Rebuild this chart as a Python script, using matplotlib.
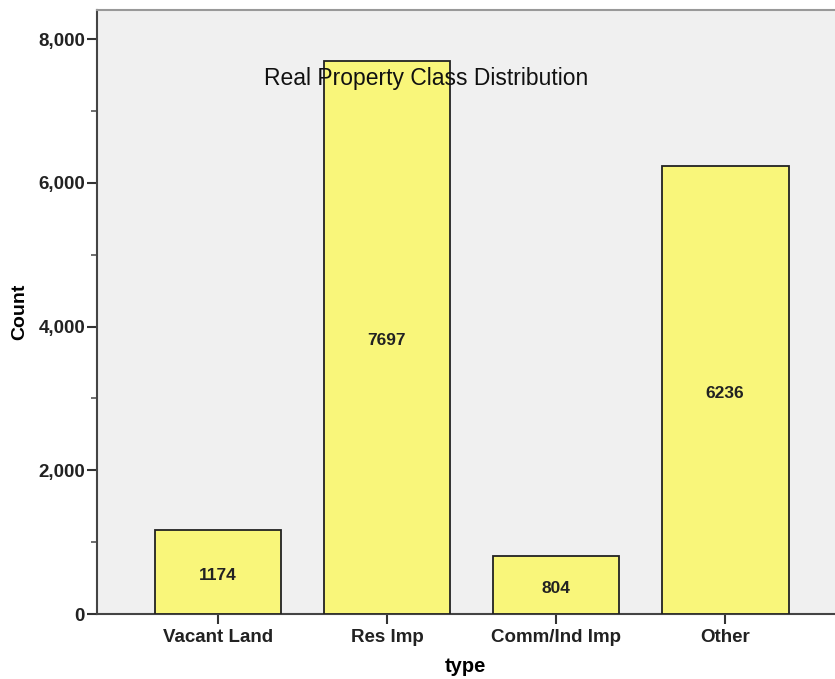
import matplotlib.pyplot as plt
from matplotlib.ticker import FixedLocator, FuncFormatter

# data
categories = ['Vacant Land', 'Res Imp', 'Comm/Ind Imp', 'Other']
counts = [1174, 7697, 804, 6236]
y_major = [0, 2000, 4000, 6000, 8000]
y_minor = [1000, 3000, 5000, 7000]

plt.rcParams['font.family'] = ['Liberation Sans', 'DejaVu Sans']

fig = plt.figure(figsize=(8.35, 6.79), dpi=100)
ax = fig.add_axes([0.116, 0.0957, 0.884, 0.889])
ax.set_facecolor('#f0f0f0')

bars = ax.bar(range(len(categories)), counts, width=0.75,
              color='#f9f67a', edgecolor='#222222', linewidth=1.3, zorder=3)
anns = ax.bar_label(bars, labels=[str(c) for c in counts], label_type='center',
                    fontsize=12.5, fontweight='bold', color='#222222')
for a in anns:
    a.xyann = (0, -2.5)  # labels sit a little below the middle

ax.set_xlim(-0.716, 3.65)
ax.set_ylim(0, 8400)

ax.yaxis.set_major_locator(FixedLocator(y_major))
ax.yaxis.set_minor_locator(FixedLocator(y_minor))
ax.yaxis.set_major_formatter(FuncFormatter(lambda v, p: f'{int(v):,}'))
ax.set_xticks(range(len(categories)))
ax.set_xticklabels(categories)

ax.tick_params(axis='both', which='major', direction='out', length=7, width=1.5,
               color='#333333', labelsize=13.5, pad=1.5)
ax.tick_params(axis='x', which='major', pad=4)
ax.tick_params(axis='y', which='minor', direction='out', length=4, width=1.2,
               color='#555555')
for lbl in ax.get_xticklabels() + ax.get_yticklabels():
    lbl.set_fontweight('bold')
    lbl.set_color('#222222')

for side in ['left', 'bottom']:
    ax.spines[side].set_color('#444444')
    ax.spines[side].set_linewidth(1.5)
ax.spines['top'].set_color('#999999')
ax.spines['top'].set_linewidth(1.5)
ax.spines['right'].set_visible(False)

ax.set_ylabel('Count', fontsize=14, fontweight='bold', labelpad=7)
ax.set_xlabel('type', fontsize=14.5, fontweight='bold', labelpad=8)

ax.text(0.446, 0.887, 'Real Property Class Distribution', transform=ax.transAxes,
        ha='center', va='center', fontsize=16.5, color='#111111', zorder=5)

fig.savefig('out.png', dpi=100)
